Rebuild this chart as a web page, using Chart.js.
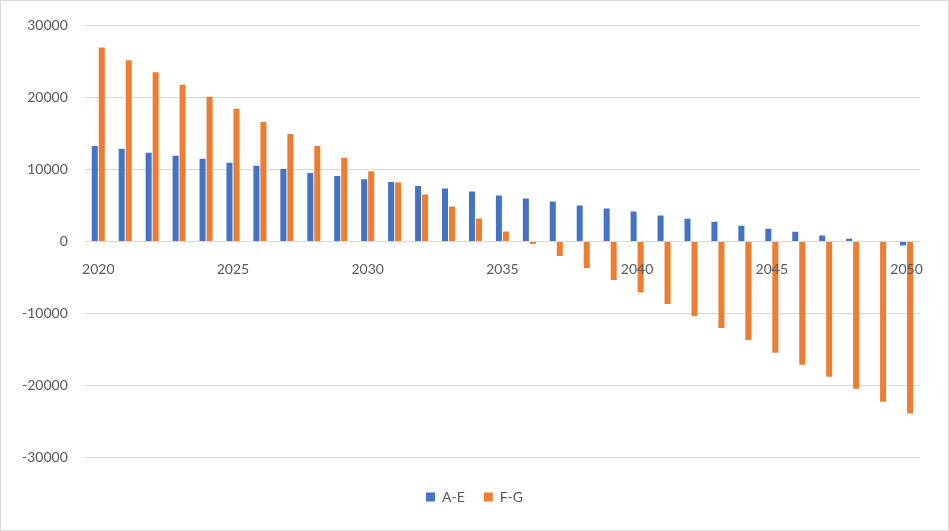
<!DOCTYPE html>
<html>
<head>
<meta charset="utf-8">
<script src="https://cdn.jsdelivr.net/npm/chart.js@4"></script>
<style>
  html, body { margin: 0; padding: 0; background: #fff; }
  #wrap { width: 949px; height: 531px; position: relative; }
</style>
</head>
<body>
<div id="wrap"><canvas id="c" width="949" height="531"></canvas></div>
<script>
const years = ['2020','2021','2022','2023','2024','2025','2026','2027','2028','2029','2030','2031','2032','2033','2034','2035','2036','2037','2038','2039','2040','2041','2042','2043','2044','2045','2046','2047','2048','2049','2050'];
const seriesAE = [13260, 12880, 12330, 11910, 11490, 10930, 10510, 10090, 9530, 9120, 8650, 8280, 7730, 7360, 6940, 6390, 5970, 5560, 5000, 4580, 4170, 3620, 3180, 2760, 2210, 1800, 1380, 830, 410, -60, -550];
const seriesFG = [26930, 25160, 23490, 21770, 20090, 18420, 16600, 14930, 13260, 11630, 9770, 8190, 6530, 4860, 3190, 1390, -320, -1990, -3660, -5320, -7080, -8660, -10320, -11980, -13640, -15440, -17100, -18760, -20410, -22210, -23870];
const seriesNames = ['A-E', 'F-G'];
const yTicks = [-30000, -20000, -10000, 0, 10000, 20000, 30000];

const borderPlugin = {
  id: 'outerBorder',
  afterDraw(chart) {
    const ctx = chart.ctx;
    ctx.save();
    ctx.strokeStyle = '#d9d9d9';
    ctx.lineWidth = 1;
    ctx.strokeRect(0.5, 0.5, chart.width - 1, chart.height - 1);
    ctx.restore();
  }
};

new Chart(document.getElementById('c'), {
  type: 'bar',
  data: {
    labels: years,
    datasets: [
      { label: seriesNames[0], data: seriesAE, backgroundColor: '#4472C4', categoryPercentage: 0.52, barPercentage: 0.86 },
      { label: seriesNames[1], data: seriesFG, backgroundColor: '#ED7D31', categoryPercentage: 0.52, barPercentage: 0.86 }
    ]
  },
  options: {
    responsive: false,
    animation: false,
    layout: { padding: { top: 25, left: 5, right: 5, bottom: 17 } },
    plugins: {
      legend: {
        position: 'bottom',
        title: { display: true, text: '', font: { size: 1 }, padding: { top: 12, bottom: 0 } },
        labels: {
          boxWidth: 9, boxHeight: 9, padding: 19,
          color: '#595959',
          font: { family: 'Lato', size: 14 }
        }
      },
      tooltip: { enabled: false }
    },
    scales: {
      y: {
        min: -30000, max: 30000,
        afterBuildTicks(scale) { scale.ticks = yTicks.map(v => ({ value: v })); },
        grid: { color: '#d9d9d9', lineWidth: 1, drawTicks: false },
        border: { display: false },
        ticks: {
          color: '#595959', padding: 17, font: { family: 'Lato', size: 14 },
          callback: (v) => String(v)
        }
      },
      yRight: {
        position: 'right',
        grid: { display: false, drawTicks: false },
        border: { display: false },
        ticks: { display: false },
        afterFit(scale) { scale.width = 24; }
      },
      x: {
        position: { y: 0 },
        grid: { display: false },
        border: { display: false },
        ticks: {
          z: 1,
          autoSkip: false, maxRotation: 0, minRotation: 0,
          padding: 11,
          color: '#595959',
          font: { family: 'Lato', size: 14 },
          callback: (v, i) => (i % 5 === 0 ? years[i] : '')
        }
      }
    }
  },
  plugins: [borderPlugin]
});
</script>
</body>
</html>
